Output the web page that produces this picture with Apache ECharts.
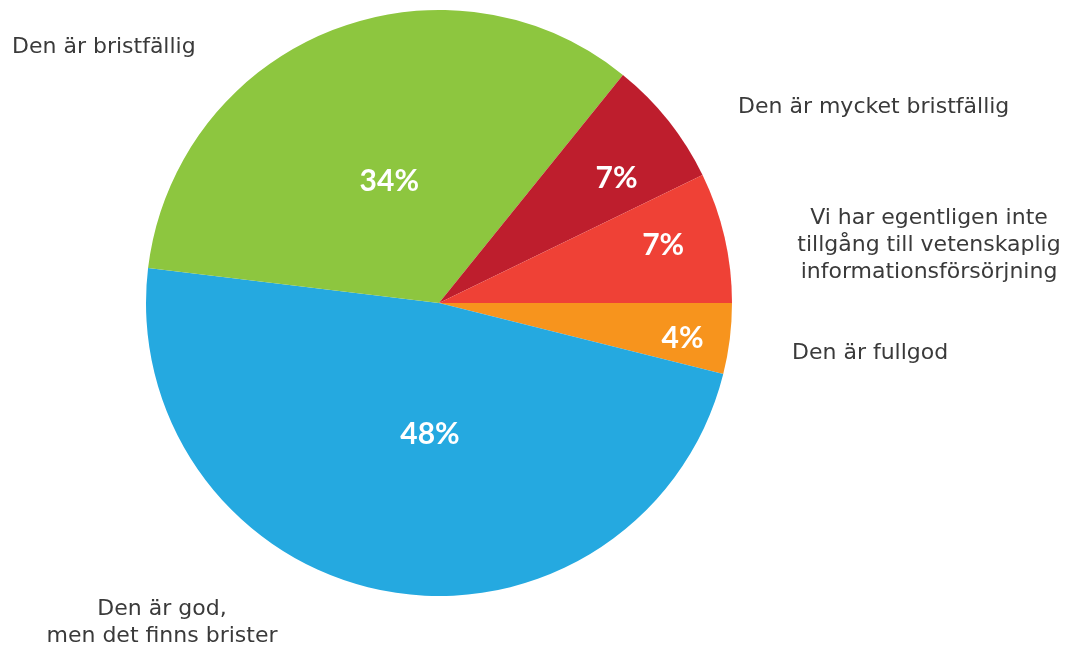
<!DOCTYPE html>
<html>
<head>
<meta charset="utf-8">
<script src="https://cdn.jsdelivr.net/npm/echarts@6/dist/echarts.min.js"></script>
<style>
  html, body { margin: 0; padding: 0; background: #fff; }
  #chart { width: 1070px; height: 649px; }
</style>
</head>
<body>
<div id="chart"></div>
<script>
// slices, clockwise from 3 o'clock
const categories = [
  'Den är fullgod',
  'Den är god,\nmen det finns brister',
  'Den är bristfällig',
  'Den är mycket bristfällig',
  'Vi har egentligen inte\ntillgång till vetenskaplig\ninformationsförsörjning'
]
const shares = [3.9, 48.0, 33.9, 7.0, 7.2]
const colors = ['#F7941D', '#25A9E0', '#8DC63F', '#BE1E2D', '#EF4136']

const cx = 439, cy = 303, R = 293
// where the % sits in the slice: fraction of radius, nudge in degrees
const innerPos = [[0.84, 1.2], [0.45, -6.5], [0.45, 0], [0.74, 3.5], [0.79, -1.5]]
const outerPos = [
  { x: 792, y: 353, align: 'left' },
  { x: 162, y: 623, align: 'center' },
  { x: 12, y: 47, align: 'left' },
  { x: 738, y: 107, align: 'left' },
  { x: 929, y: 245, align: 'center' }
]

const total = shares.reduce((a, b) => a + b, 0)
const midAngles = []
let acc = 0
for (let i = 0; i < shares.length; i++) {
  const a0 = acc / total * 2 * Math.PI
  acc += shares[i]
  const a1 = acc / total * 2 * Math.PI
  midAngles.push((a0 + a1) / 2)
}

const data = categories.map((name, i) => ({
  name: name,
  value: shares[i],
  itemStyle: { color: colors[i] }
}))

const chart = echarts.init(document.getElementById('chart'))
chart.setOption({
  animation: false,
  series: [
    {
      type: 'pie',
      center: [cx, cy],
      radius: R,
      startAngle: 0,
      clockwise: true,
      silent: true,
      itemStyle: { borderWidth: 0 },
      label: {
        show: true,
        position: 'inside',
        color: '#fff',
        fontFamily: 'Lato',
        fontWeight: 'bold',
        fontSize: 30,
        formatter: p => Math.round(p.value) + '%'
      },
      labelLine: { show: false },
      labelLayout: function (params) {
        const i = params.dataIndex
        const a = midAngles[i] + innerPos[i][1] * Math.PI / 180
        const r = innerPos[i][0] * R
        return {
          x: cx + r * Math.cos(a),
          y: cy + r * Math.sin(a),
          align: 'center',
          verticalAlign: 'middle'
        }
      },
      data: data
    },
    {
      // transparent copy that only carries the category names
      type: 'pie',
      center: [cx, cy],
      radius: R,
      startAngle: 0,
      clockwise: true,
      silent: true,
      itemStyle: { color: 'rgba(0,0,0,0)', borderWidth: 0 },
      label: {
        show: true,
        position: 'outside',
        color: '#3a3a3a',
        fontFamily: 'DejaVu Sans',
        fontSize: 22,
        lineHeight: 27,
        formatter: '{b}'
      },
      labelLine: { show: false },
      labelLayout: function (params) {
        const p = outerPos[params.dataIndex]
        return { x: p.x, y: p.y, align: p.align, verticalAlign: 'middle' }
      },
      data: data.map(d => ({ name: d.name, value: d.value }))
    }
  ]
})
</script>
</body>
</html>
